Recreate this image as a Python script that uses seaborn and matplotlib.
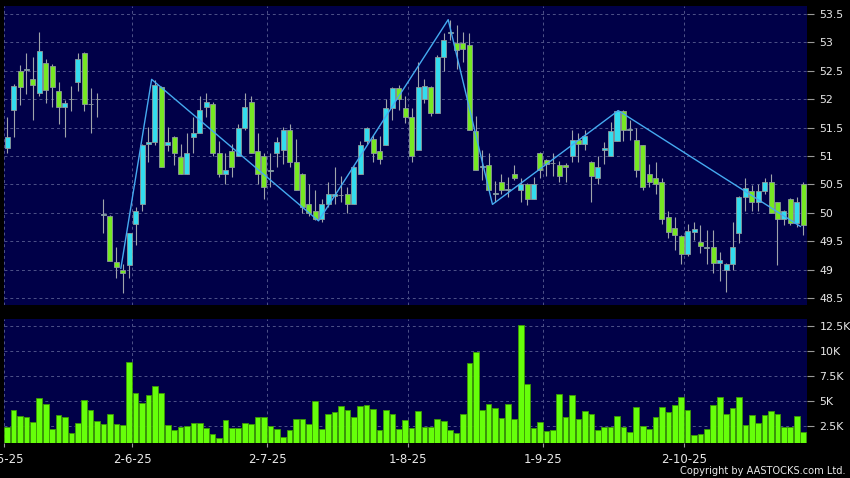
import matplotlib
matplotlib.use("Agg")
import numpy as np
import pandas as pd
import matplotlib.pyplot as plt
import seaborn as sns
from matplotlib.ticker import FuncFormatter

# ---------------- data ----------------
opens = [51.15, 51.81, 52.50, 52.51, 52.35, 52.11, 52.64, 52.59, 52.15, 51.86,
         52.00, 52.30, 52.81, 51.91, 52.00, 49.97, 49.95, 49.14, 49.00, 49.09,
         49.80, 50.15, 51.21, 51.25, 52.21, 51.20, 51.34, 50.99, 50.69, 51.34,
         51.40, 51.86, 51.91, 51.05, 50.69, 51.09, 51.00, 51.50, 51.95, 51.09,
         51.00, 50.74, 51.05, 51.10, 51.46, 50.90, 50.69, 50.15, 50.04, 49.90,
         50.15, 50.30, 50.31, 50.34, 50.15, 50.69, 51.26, 51.30, 51.09, 51.20,
         51.85, 52.20, 51.85, 51.69, 51.10, 52.00, 52.21, 51.75, 52.75, 53.16,
         52.99, 52.99, 52.95, 51.44, 50.81, 50.85, 50.34, 50.55, 50.40, 50.69,
         50.40, 50.50, 50.25, 51.05, 50.93, 50.87, 50.85, 50.85, 51.00, 51.29,
         51.21, 50.90, 50.61, 51.10, 51.00, 51.27, 51.80, 51.46, 51.29, 51.19,
         50.69, 50.61, 50.55, 49.92, 49.74, 49.60, 49.27, 49.66, 49.49, 49.39,
         49.40, 49.12, 49.00, 49.11, 49.64, 50.28, 50.39, 50.19, 50.39, 50.55,
         50.19, 49.90, 50.24, 49.83, 50.51]
highs = [51.69, 52.26, 52.60, 52.81, 52.75, 53.19, 52.70, 52.62, 52.30, 51.98,
         52.24, 52.81, 52.83, 52.19, 52.11, 50.25, 49.96, 49.40, 49.11, 49.65,
         50.10, 51.21, 51.52, 52.34, 52.23, 51.52, 51.36, 51.21, 51.40, 51.69,
         52.06, 52.11, 51.95, 51.27, 51.05, 51.21, 51.56, 52.11, 52.06, 51.40,
         51.05, 51.05, 51.34, 51.52, 51.56, 51.30, 50.70, 50.51, 50.40, 50.25,
         50.55, 50.81, 50.65, 50.46, 50.82, 51.27, 51.52, 51.37, 51.35, 52.01,
         52.22, 52.25, 52.06, 51.84, 52.66, 52.35, 52.23, 52.77, 53.16, 53.40,
         53.31, 53.19, 53.16, 51.70, 51.10, 51.05, 50.56, 50.69, 50.63, 50.85,
         50.61, 50.52, 50.63, 51.07, 50.95, 51.05, 50.92, 50.87, 51.46, 51.40,
         51.46, 50.92, 51.00, 51.25, 51.60, 51.81, 51.81, 51.63, 51.50, 51.20,
         50.86, 50.90, 50.61, 50.04, 49.93, 49.62, 49.81, 49.84, 49.78, 49.70,
         49.70, 49.31, 49.12, 49.84, 50.30, 50.61, 50.49, 50.51, 50.61, 50.69,
         50.20, 50.06, 50.26, 50.28, 50.55]
lows = [51.05, 51.34, 51.90, 52.10, 51.64, 52.05, 51.94, 51.86, 51.56, 51.34,
        51.80, 52.15, 51.80, 51.40, 51.69, 49.64, 49.15, 48.85, 48.59, 48.85,
        49.44, 50.04, 50.90, 51.19, 50.80, 51.09, 50.84, 50.69, 50.69, 51.05,
        51.40, 51.69, 51.00, 50.63, 50.51, 50.63, 51.00, 51.46, 51.05, 50.51,
        50.25, 50.46, 50.80, 50.86, 50.81, 50.40, 49.99, 49.95, 49.87, 49.84,
        50.10, 50.15, 50.19, 49.99, 50.15, 50.69, 51.22, 50.90, 50.86, 51.20,
        51.63, 51.81, 51.59, 50.90, 51.10, 51.94, 51.70, 51.75, 52.50, 53.04,
        52.54, 52.66, 51.45, 50.75, 50.58, 50.40, 50.19, 50.34, 50.28, 50.58,
        50.19, 50.14, 50.25, 50.61, 50.65, 50.65, 50.55, 50.55, 50.90, 50.90,
        51.10, 50.19, 50.51, 50.86, 51.00, 51.27, 51.27, 51.28, 50.63, 50.40,
        50.46, 50.34, 49.81, 49.55, 49.34, 49.11, 49.25, 49.52, 49.30, 49.11,
        48.94, 48.80, 48.61, 49.00, 49.47, 50.04, 50.04, 50.04, 50.33, 49.99,
        49.08, 49.78, 49.78, 49.75, 49.61]
closes = [51.34, 52.24, 52.21, 52.54, 52.25, 52.85, 52.16, 52.21, 51.86, 51.94,
          52.00, 52.70, 51.91, 51.91, 52.00, 49.97, 49.15, 49.04, 48.95, 49.64,
          50.04, 51.20, 51.25, 52.25, 50.80, 51.25, 51.05, 50.69, 51.05, 51.40,
          51.81, 51.95, 51.05, 50.69, 50.75, 50.81, 51.50, 51.86, 51.05, 50.69,
          50.45, 50.74, 51.25, 51.46, 50.90, 50.40, 50.11, 49.99, 49.90, 50.15,
          50.34, 50.34, 50.31, 50.15, 50.80, 51.20, 51.50, 51.05, 50.94, 51.85,
          52.20, 52.00, 51.69, 51.00, 52.21, 52.23, 51.75, 52.75, 53.05, 53.19,
          52.86, 52.89, 51.46, 50.75, 50.81, 50.40, 50.34, 50.40, 50.40, 50.61,
          50.50, 50.25, 50.50, 50.75, 50.86, 50.87, 50.65, 50.80, 51.29, 51.21,
          51.35, 50.65, 50.80, 51.15, 51.44, 51.80, 51.46, 51.46, 50.75, 50.46,
          50.55, 50.51, 49.90, 49.67, 49.61, 49.27, 49.68, 49.71, 49.41, 49.39,
          49.12, 49.18, 49.11, 49.40, 50.28, 50.43, 50.19, 50.39, 50.55, 49.99,
          49.90, 50.04, 49.83, 50.19, 49.78]
volume_k = [2.33, 4.07, 3.44, 3.37, 2.83, 5.31, 4.67, 2.17, 3.54, 3.40,
            1.73, 2.73, 5.08, 4.04, 2.97, 2.67, 3.64, 2.70, 2.57, 8.85,
            5.74, 4.74, 5.58, 6.48, 5.81, 2.53, 2.07, 2.37, 2.47, 2.73,
            2.73, 2.30, 1.63, 1.26, 3.10, 2.30, 2.27, 2.73, 2.67, 3.37,
            3.34, 2.50, 2.17, 1.40, 2.03, 3.17, 3.14, 2.67, 4.94, 2.13,
            3.70, 3.87, 4.44, 4.04, 3.34, 4.44, 4.61, 4.17, 2.07, 4.04,
            3.67, 2.17, 3.04, 2.23, 3.97, 2.40, 2.40, 3.20, 2.97, 2.07,
            1.80, 3.64, 8.75, 9.92, 4.04, 4.64, 4.31, 3.27, 4.64, 3.20,
            12.60, 6.65, 2.30, 2.87, 1.96, 2.10, 5.68, 3.34, 5.58, 3.17,
            4.00, 3.70, 2.03, 2.33, 2.33, 3.47, 2.37, 1.90, 4.41, 2.47,
            2.17, 3.40, 4.41, 3.90, 4.57, 5.41, 4.04, 1.60, 1.66, 2.13,
            4.54, 5.41, 3.64, 4.27, 5.34, 2.57, 3.54, 2.77, 3.57, 3.97,
            3.64, 2.40, 2.37, 3.47, 1.90]
zigzag_pos = [17.7, 22.5, 48.5, 68.7, 75.6, 95.2, 123.6]
zigzag_val = [49.02, 52.35, 49.86, 53.40, 50.15, 51.80, 49.76]
month_labels = ["2-5-25", "2-6-25", "2-7-25", "1-8-25", "1-9-25", "2-10-25"]
month_first_idx = [-1, 19, 40, 62, 83, 105]
price_ticks = [48.5, 49, 49.5, 50, 50.5, 51, 51.5, 52, 52.5, 53, 53.5]
volume_ticks = [2.5, 5, 7.5, 10, 12.5]

# ---------------- style ----------------
BG = "#000048"
CYAN = "#33dcee"
GREEN = "#77e823"
VOLG = "#66ff0a"
GRID = "#4e5288"
TXT = "#e8e8e8"

sns.set_theme(style="dark")
plt.rcParams["font.family"] = ["DejaVu Sans"]

n = len(closes)
idx = np.arange(n)
df = pd.DataFrame({"i": idx, "open": opens, "high": highs, "low": lows,
                   "close": closes, "vol": volume_k})
df["up"] = df["close"] >= df["open"]

fig = plt.figure(figsize=(8.5, 4.78), dpi=100, facecolor="black")
W, H = 850.0, 478.0
axp = fig.add_axes([4 / W, 1 - 305 / H, 803 / W, 299 / H])
axv = fig.add_axes([4 / W, 1 - 443.3 / H, 803 / W, 124 / H])

tick_pos = [m + 0.5 for m in month_first_idx]

for ax in (axp, axv):
    ax.set_facecolor(BG)
    for s in ax.spines.values():
        s.set_visible(False)
    ax.set_xlim(-0.5, 124.6)
    ax.set_xticks(tick_pos)
    ax.grid(True, color=GRID, linestyle=(0, (3, 3)), linewidth=0.7)
    ax.set_axisbelow(True)
    ax.yaxis.tick_right()
    ax.tick_params(axis="y", which="both", right=True, left=False, length=5,
                   width=0.8, color="#9a9a9a", labelcolor=TXT, labelsize=7.9, pad=4)

# ---------------- price panel ----------------
axp.vlines(df["i"], df["low"], df["high"], color="#a0a4aa", linewidth=0.8, zorder=2)
body_bottom = np.minimum(df["open"], df["close"])
body_height = np.maximum(np.abs(df["close"] - df["open"]), 0.012)
body_colors = np.where(df["up"], CYAN, GREEN)
axp.bar(df["i"], body_height, bottom=body_bottom, width=0.78, color=body_colors,
        edgecolor="#8e9a9c", linewidth=0.6, zorder=3)
sns.lineplot(x=zigzag_pos, y=zigzag_val, sort=False, estimator=None,
             color="#45aaf0", linewidth=1.0, ax=axp, zorder=4)
axp.set_ylim(48.38, 53.64)
axp.set_yticks(price_ticks)
axp.yaxis.set_major_formatter(FuncFormatter(lambda v, p: f"{v:g}"))
axp.tick_params(axis="x", bottom=False, labelbottom=False)
axp.set_xlabel("")
axp.set_ylabel("")

# ---------------- volume panel ----------------
sns.barplot(data=df, x="i", y="vol", native_scale=True, width=0.88, color=VOLG,
            saturation=1, edgecolor="#3c9a05", linewidth=0.6, errorbar=None,
            ax=axv, zorder=3)
axv.set_xlim(-0.5, 124.6)
axv.set_xticks(tick_pos)
axv.set_xticklabels(month_labels)
axv.set_ylim(0.735, 13.17)
axv.set_yticks(volume_ticks)
axv.yaxis.set_major_formatter(FuncFormatter(lambda v, p: f"{v:g}K"))
axv.tick_params(axis="x", bottom=True, length=3, width=0.8, color="#9a9a9a",
                labelcolor=TXT, labelsize=8.5, pad=4)
axv.set_xlabel("")
axv.set_ylabel("")

fig.text(846 / W, 1 - 471.5 / H, "Copyright by AASTOCKS.com Ltd.", color=TXT,
         fontsize=7.1, ha="right", va="center")

fig.savefig("out.png", dpi=100, facecolor="black")
